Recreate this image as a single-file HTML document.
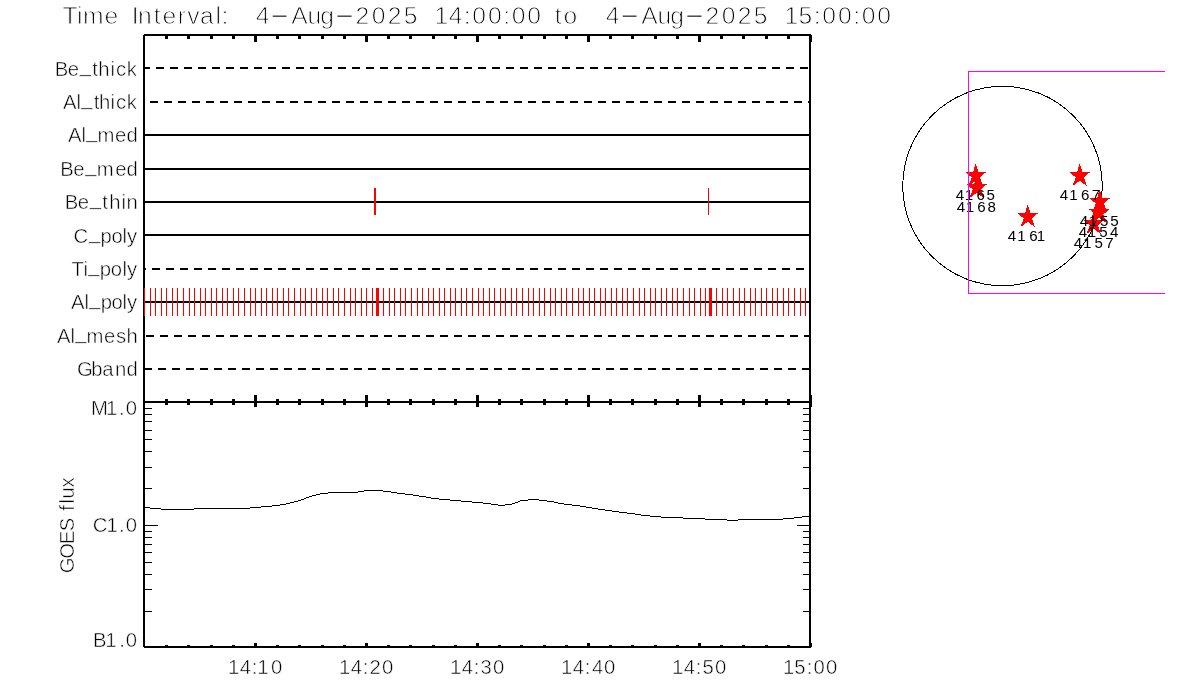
<!DOCTYPE html>
<html lang="en"><head><meta charset="utf-8"><title>Time Interval</title>
<style>
html,body{margin:0;padding:0;background:#fff;}
body{width:1200px;height:700px;overflow:hidden;}
svg{display:block;position:absolute;left:0;top:0;}
text{font-family:"Liberation Sans",sans-serif;fill:#000;stroke:#fff;stroke-width:0.5px;stroke-linejoin:round;}
.tt{stroke-width:0.9px;}
.ar{stroke:none;}
.c{shape-rendering:crispEdges;}
</style></head><body>
<svg width="1200" height="700" viewBox="0 0 1200 700">
<rect width="1200" height="700" fill="#fff"/>
<g class="c" fill="#000">
<rect x="144" y="34" width="667" height="1"/>
<rect x="143" y="35" width="669" height="1"/>
<rect x="143" y="401" width="668" height="2"/>
<rect x="143" y="646" width="669" height="1"/>
<rect x="144" y="647" width="667" height="1"/>
<rect x="143" y="35" width="2" height="612"/>
<rect x="809" y="35" width="2" height="612"/>
<rect x="165" y="36" width="3" height="3"/>
<rect x="165" y="399" width="3" height="6"/>
<rect x="165" y="645" width="3" height="1"/>
<rect x="187" y="36" width="3" height="3"/>
<rect x="187" y="399" width="3" height="6"/>
<rect x="187" y="645" width="3" height="1"/>
<rect x="210" y="36" width="3" height="3"/>
<rect x="210" y="399" width="3" height="6"/>
<rect x="210" y="645" width="3" height="1"/>
<rect x="232" y="36" width="3" height="3"/>
<rect x="232" y="399" width="3" height="6"/>
<rect x="232" y="645" width="3" height="1"/>
<rect x="254" y="36" width="3" height="6"/>
<rect x="254" y="395" width="3" height="12"/>
<rect x="254" y="643" width="3" height="3"/>
<rect x="276" y="36" width="3" height="3"/>
<rect x="276" y="399" width="3" height="6"/>
<rect x="276" y="645" width="3" height="1"/>
<rect x="298" y="36" width="3" height="3"/>
<rect x="298" y="399" width="3" height="6"/>
<rect x="298" y="645" width="3" height="1"/>
<rect x="321" y="36" width="3" height="3"/>
<rect x="321" y="399" width="3" height="6"/>
<rect x="321" y="645" width="3" height="1"/>
<rect x="343" y="36" width="3" height="3"/>
<rect x="343" y="399" width="3" height="6"/>
<rect x="343" y="645" width="3" height="1"/>
<rect x="365" y="36" width="3" height="6"/>
<rect x="365" y="395" width="3" height="12"/>
<rect x="365" y="643" width="3" height="3"/>
<rect x="387" y="36" width="3" height="3"/>
<rect x="387" y="399" width="3" height="6"/>
<rect x="387" y="645" width="3" height="1"/>
<rect x="409" y="36" width="3" height="3"/>
<rect x="409" y="399" width="3" height="6"/>
<rect x="409" y="645" width="3" height="1"/>
<rect x="432" y="36" width="3" height="3"/>
<rect x="432" y="399" width="3" height="6"/>
<rect x="432" y="645" width="3" height="1"/>
<rect x="454" y="36" width="3" height="3"/>
<rect x="454" y="399" width="3" height="6"/>
<rect x="454" y="645" width="3" height="1"/>
<rect x="476" y="36" width="3" height="6"/>
<rect x="476" y="395" width="3" height="12"/>
<rect x="476" y="643" width="3" height="3"/>
<rect x="498" y="36" width="3" height="3"/>
<rect x="498" y="399" width="3" height="6"/>
<rect x="498" y="645" width="3" height="1"/>
<rect x="520" y="36" width="3" height="3"/>
<rect x="520" y="399" width="3" height="6"/>
<rect x="520" y="645" width="3" height="1"/>
<rect x="543" y="36" width="3" height="3"/>
<rect x="543" y="399" width="3" height="6"/>
<rect x="543" y="645" width="3" height="1"/>
<rect x="565" y="36" width="3" height="3"/>
<rect x="565" y="399" width="3" height="6"/>
<rect x="565" y="645" width="3" height="1"/>
<rect x="587" y="36" width="3" height="6"/>
<rect x="587" y="395" width="3" height="12"/>
<rect x="587" y="643" width="3" height="3"/>
<rect x="609" y="36" width="3" height="3"/>
<rect x="609" y="399" width="3" height="6"/>
<rect x="609" y="645" width="3" height="1"/>
<rect x="631" y="36" width="3" height="3"/>
<rect x="631" y="399" width="3" height="6"/>
<rect x="631" y="645" width="3" height="1"/>
<rect x="654" y="36" width="3" height="3"/>
<rect x="654" y="399" width="3" height="6"/>
<rect x="654" y="645" width="3" height="1"/>
<rect x="676" y="36" width="3" height="3"/>
<rect x="676" y="399" width="3" height="6"/>
<rect x="676" y="645" width="3" height="1"/>
<rect x="698" y="36" width="3" height="6"/>
<rect x="698" y="395" width="3" height="12"/>
<rect x="698" y="643" width="3" height="3"/>
<rect x="720" y="36" width="3" height="3"/>
<rect x="720" y="399" width="3" height="6"/>
<rect x="720" y="645" width="3" height="1"/>
<rect x="742" y="36" width="3" height="3"/>
<rect x="742" y="399" width="3" height="6"/>
<rect x="742" y="645" width="3" height="1"/>
<rect x="765" y="36" width="3" height="3"/>
<rect x="765" y="399" width="3" height="6"/>
<rect x="765" y="645" width="3" height="1"/>
<rect x="787" y="36" width="3" height="3"/>
<rect x="787" y="399" width="3" height="6"/>
<rect x="787" y="645" width="3" height="1"/>
<rect x="809" y="36" width="3" height="6"/>
<rect x="809" y="395" width="3" height="12"/>
<rect x="809" y="643" width="3" height="3"/>
</g>
<g class="c" fill="#000">
<rect x="145" y="67" width="5" height="2"/>
<rect x="156" y="67" width="8" height="2"/>
<rect x="170" y="67" width="8" height="2"/>
<rect x="184" y="67" width="8" height="2"/>
<rect x="198" y="67" width="8" height="2"/>
<rect x="212" y="67" width="8" height="2"/>
<rect x="226" y="67" width="8" height="2"/>
<rect x="240" y="67" width="8" height="2"/>
<rect x="254" y="67" width="8" height="2"/>
<rect x="268" y="67" width="8" height="2"/>
<rect x="282" y="67" width="8" height="2"/>
<rect x="296" y="67" width="8" height="2"/>
<rect x="310" y="67" width="8" height="2"/>
<rect x="324" y="67" width="8" height="2"/>
<rect x="338" y="67" width="8" height="2"/>
<rect x="352" y="67" width="8" height="2"/>
<rect x="366" y="67" width="8" height="2"/>
<rect x="380" y="67" width="8" height="2"/>
<rect x="394" y="67" width="8" height="2"/>
<rect x="408" y="67" width="8" height="2"/>
<rect x="422" y="67" width="8" height="2"/>
<rect x="436" y="67" width="8" height="2"/>
<rect x="450" y="67" width="8" height="2"/>
<rect x="464" y="67" width="8" height="2"/>
<rect x="478" y="67" width="8" height="2"/>
<rect x="492" y="67" width="8" height="2"/>
<rect x="506" y="67" width="8" height="2"/>
<rect x="520" y="67" width="8" height="2"/>
<rect x="534" y="67" width="8" height="2"/>
<rect x="548" y="67" width="8" height="2"/>
<rect x="562" y="67" width="8" height="2"/>
<rect x="576" y="67" width="8" height="2"/>
<rect x="590" y="67" width="8" height="2"/>
<rect x="604" y="67" width="8" height="2"/>
<rect x="618" y="67" width="8" height="2"/>
<rect x="632" y="67" width="8" height="2"/>
<rect x="646" y="67" width="8" height="2"/>
<rect x="660" y="67" width="8" height="2"/>
<rect x="674" y="67" width="8" height="2"/>
<rect x="688" y="67" width="8" height="2"/>
<rect x="702" y="67" width="8" height="2"/>
<rect x="716" y="67" width="8" height="2"/>
<rect x="730" y="67" width="8" height="2"/>
<rect x="744" y="67" width="8" height="2"/>
<rect x="758" y="67" width="8" height="2"/>
<rect x="772" y="67" width="8" height="2"/>
<rect x="786" y="67" width="8" height="2"/>
<rect x="800" y="67" width="8" height="2"/>
<rect x="150" y="101" width="8" height="2"/>
<rect x="164" y="101" width="8" height="2"/>
<rect x="178" y="101" width="8" height="2"/>
<rect x="192" y="101" width="8" height="2"/>
<rect x="206" y="101" width="8" height="2"/>
<rect x="220" y="101" width="8" height="2"/>
<rect x="234" y="101" width="8" height="2"/>
<rect x="248" y="101" width="8" height="2"/>
<rect x="262" y="101" width="8" height="2"/>
<rect x="276" y="101" width="8" height="2"/>
<rect x="290" y="101" width="8" height="2"/>
<rect x="304" y="101" width="8" height="2"/>
<rect x="318" y="101" width="8" height="2"/>
<rect x="332" y="101" width="8" height="2"/>
<rect x="346" y="101" width="8" height="2"/>
<rect x="360" y="101" width="8" height="2"/>
<rect x="374" y="101" width="8" height="2"/>
<rect x="388" y="101" width="8" height="2"/>
<rect x="402" y="101" width="8" height="2"/>
<rect x="416" y="101" width="8" height="2"/>
<rect x="430" y="101" width="8" height="2"/>
<rect x="444" y="101" width="8" height="2"/>
<rect x="458" y="101" width="8" height="2"/>
<rect x="472" y="101" width="8" height="2"/>
<rect x="486" y="101" width="8" height="2"/>
<rect x="500" y="101" width="8" height="2"/>
<rect x="514" y="101" width="8" height="2"/>
<rect x="528" y="101" width="8" height="2"/>
<rect x="542" y="101" width="8" height="2"/>
<rect x="556" y="101" width="8" height="2"/>
<rect x="570" y="101" width="8" height="2"/>
<rect x="584" y="101" width="8" height="2"/>
<rect x="598" y="101" width="8" height="2"/>
<rect x="612" y="101" width="8" height="2"/>
<rect x="626" y="101" width="8" height="2"/>
<rect x="640" y="101" width="8" height="2"/>
<rect x="654" y="101" width="8" height="2"/>
<rect x="668" y="101" width="8" height="2"/>
<rect x="682" y="101" width="8" height="2"/>
<rect x="696" y="101" width="8" height="2"/>
<rect x="710" y="101" width="8" height="2"/>
<rect x="724" y="101" width="8" height="2"/>
<rect x="738" y="101" width="8" height="2"/>
<rect x="752" y="101" width="8" height="2"/>
<rect x="766" y="101" width="8" height="2"/>
<rect x="780" y="101" width="8" height="2"/>
<rect x="794" y="101" width="8" height="2"/>
<rect x="808" y="101" width="1" height="2"/>
<rect x="145" y="134" width="664" height="2"/>
<rect x="145" y="168" width="664" height="2"/>
<rect x="145" y="201" width="664" height="2"/>
<rect x="145" y="234" width="664" height="2"/>
<rect x="145" y="268" width="1" height="2"/>
<rect x="152" y="268" width="8" height="2"/>
<rect x="166" y="268" width="8" height="2"/>
<rect x="180" y="268" width="8" height="2"/>
<rect x="194" y="268" width="8" height="2"/>
<rect x="208" y="268" width="8" height="2"/>
<rect x="222" y="268" width="8" height="2"/>
<rect x="236" y="268" width="8" height="2"/>
<rect x="250" y="268" width="8" height="2"/>
<rect x="264" y="268" width="8" height="2"/>
<rect x="278" y="268" width="8" height="2"/>
<rect x="292" y="268" width="8" height="2"/>
<rect x="306" y="268" width="8" height="2"/>
<rect x="320" y="268" width="8" height="2"/>
<rect x="334" y="268" width="8" height="2"/>
<rect x="348" y="268" width="8" height="2"/>
<rect x="362" y="268" width="8" height="2"/>
<rect x="376" y="268" width="8" height="2"/>
<rect x="390" y="268" width="8" height="2"/>
<rect x="404" y="268" width="8" height="2"/>
<rect x="418" y="268" width="8" height="2"/>
<rect x="432" y="268" width="8" height="2"/>
<rect x="446" y="268" width="8" height="2"/>
<rect x="460" y="268" width="8" height="2"/>
<rect x="474" y="268" width="8" height="2"/>
<rect x="488" y="268" width="8" height="2"/>
<rect x="502" y="268" width="8" height="2"/>
<rect x="516" y="268" width="8" height="2"/>
<rect x="530" y="268" width="8" height="2"/>
<rect x="544" y="268" width="8" height="2"/>
<rect x="558" y="268" width="8" height="2"/>
<rect x="572" y="268" width="8" height="2"/>
<rect x="586" y="268" width="8" height="2"/>
<rect x="600" y="268" width="8" height="2"/>
<rect x="614" y="268" width="8" height="2"/>
<rect x="628" y="268" width="8" height="2"/>
<rect x="642" y="268" width="8" height="2"/>
<rect x="656" y="268" width="8" height="2"/>
<rect x="670" y="268" width="8" height="2"/>
<rect x="684" y="268" width="8" height="2"/>
<rect x="698" y="268" width="8" height="2"/>
<rect x="712" y="268" width="8" height="2"/>
<rect x="726" y="268" width="8" height="2"/>
<rect x="740" y="268" width="8" height="2"/>
<rect x="754" y="268" width="8" height="2"/>
<rect x="768" y="268" width="8" height="2"/>
<rect x="782" y="268" width="8" height="2"/>
<rect x="796" y="268" width="8" height="2"/>
<rect x="145" y="301" width="664" height="2"/>
<rect x="146" y="335" width="8" height="2"/>
<rect x="160" y="335" width="8" height="2"/>
<rect x="174" y="335" width="8" height="2"/>
<rect x="188" y="335" width="8" height="2"/>
<rect x="202" y="335" width="8" height="2"/>
<rect x="216" y="335" width="8" height="2"/>
<rect x="230" y="335" width="8" height="2"/>
<rect x="244" y="335" width="8" height="2"/>
<rect x="258" y="335" width="8" height="2"/>
<rect x="272" y="335" width="8" height="2"/>
<rect x="286" y="335" width="8" height="2"/>
<rect x="300" y="335" width="8" height="2"/>
<rect x="314" y="335" width="8" height="2"/>
<rect x="328" y="335" width="8" height="2"/>
<rect x="342" y="335" width="8" height="2"/>
<rect x="356" y="335" width="8" height="2"/>
<rect x="370" y="335" width="8" height="2"/>
<rect x="384" y="335" width="8" height="2"/>
<rect x="398" y="335" width="8" height="2"/>
<rect x="412" y="335" width="8" height="2"/>
<rect x="426" y="335" width="8" height="2"/>
<rect x="440" y="335" width="8" height="2"/>
<rect x="454" y="335" width="8" height="2"/>
<rect x="468" y="335" width="8" height="2"/>
<rect x="482" y="335" width="8" height="2"/>
<rect x="496" y="335" width="8" height="2"/>
<rect x="510" y="335" width="8" height="2"/>
<rect x="524" y="335" width="8" height="2"/>
<rect x="538" y="335" width="8" height="2"/>
<rect x="552" y="335" width="8" height="2"/>
<rect x="566" y="335" width="8" height="2"/>
<rect x="580" y="335" width="8" height="2"/>
<rect x="594" y="335" width="8" height="2"/>
<rect x="608" y="335" width="8" height="2"/>
<rect x="622" y="335" width="8" height="2"/>
<rect x="636" y="335" width="8" height="2"/>
<rect x="650" y="335" width="8" height="2"/>
<rect x="664" y="335" width="8" height="2"/>
<rect x="678" y="335" width="8" height="2"/>
<rect x="692" y="335" width="8" height="2"/>
<rect x="706" y="335" width="8" height="2"/>
<rect x="720" y="335" width="8" height="2"/>
<rect x="734" y="335" width="8" height="2"/>
<rect x="748" y="335" width="8" height="2"/>
<rect x="762" y="335" width="8" height="2"/>
<rect x="776" y="335" width="8" height="2"/>
<rect x="790" y="335" width="8" height="2"/>
<rect x="804" y="335" width="5" height="2"/>
<rect x="145" y="368" width="7" height="2"/>
<rect x="158" y="368" width="8" height="2"/>
<rect x="172" y="368" width="8" height="2"/>
<rect x="186" y="368" width="8" height="2"/>
<rect x="200" y="368" width="8" height="2"/>
<rect x="214" y="368" width="8" height="2"/>
<rect x="228" y="368" width="8" height="2"/>
<rect x="242" y="368" width="8" height="2"/>
<rect x="256" y="368" width="8" height="2"/>
<rect x="270" y="368" width="8" height="2"/>
<rect x="284" y="368" width="8" height="2"/>
<rect x="298" y="368" width="8" height="2"/>
<rect x="312" y="368" width="8" height="2"/>
<rect x="326" y="368" width="8" height="2"/>
<rect x="340" y="368" width="8" height="2"/>
<rect x="354" y="368" width="8" height="2"/>
<rect x="368" y="368" width="8" height="2"/>
<rect x="382" y="368" width="8" height="2"/>
<rect x="396" y="368" width="8" height="2"/>
<rect x="410" y="368" width="8" height="2"/>
<rect x="424" y="368" width="8" height="2"/>
<rect x="438" y="368" width="8" height="2"/>
<rect x="452" y="368" width="8" height="2"/>
<rect x="466" y="368" width="8" height="2"/>
<rect x="480" y="368" width="8" height="2"/>
<rect x="494" y="368" width="8" height="2"/>
<rect x="508" y="368" width="8" height="2"/>
<rect x="522" y="368" width="8" height="2"/>
<rect x="536" y="368" width="8" height="2"/>
<rect x="550" y="368" width="8" height="2"/>
<rect x="564" y="368" width="8" height="2"/>
<rect x="578" y="368" width="8" height="2"/>
<rect x="592" y="368" width="8" height="2"/>
<rect x="606" y="368" width="8" height="2"/>
<rect x="620" y="368" width="8" height="2"/>
<rect x="634" y="368" width="8" height="2"/>
<rect x="648" y="368" width="8" height="2"/>
<rect x="662" y="368" width="8" height="2"/>
<rect x="676" y="368" width="8" height="2"/>
<rect x="690" y="368" width="8" height="2"/>
<rect x="704" y="368" width="8" height="2"/>
<rect x="718" y="368" width="8" height="2"/>
<rect x="732" y="368" width="8" height="2"/>
<rect x="746" y="368" width="8" height="2"/>
<rect x="760" y="368" width="8" height="2"/>
<rect x="774" y="368" width="8" height="2"/>
<rect x="788" y="368" width="8" height="2"/>
<rect x="802" y="368" width="7" height="2"/>
</g>
<g class="c" fill="#f00">
<rect x="144" y="288" width="1" height="28"/>
<rect x="150" y="288" width="1" height="28"/>
<rect x="155" y="288" width="1" height="28"/>
<rect x="161" y="288" width="1" height="28"/>
<rect x="166" y="288" width="1" height="28"/>
<rect x="172" y="288" width="1" height="28"/>
<rect x="177" y="288" width="1" height="28"/>
<rect x="183" y="288" width="1" height="28"/>
<rect x="189" y="288" width="1" height="28"/>
<rect x="194" y="288" width="1" height="28"/>
<rect x="200" y="288" width="1" height="28"/>
<rect x="205" y="288" width="1" height="28"/>
<rect x="211" y="288" width="1" height="28"/>
<rect x="216" y="288" width="1" height="28"/>
<rect x="222" y="288" width="1" height="28"/>
<rect x="227" y="288" width="1" height="28"/>
<rect x="233" y="288" width="1" height="28"/>
<rect x="238" y="288" width="1" height="28"/>
<rect x="244" y="288" width="1" height="28"/>
<rect x="250" y="288" width="1" height="28"/>
<rect x="255" y="288" width="1" height="28"/>
<rect x="261" y="288" width="1" height="28"/>
<rect x="266" y="288" width="1" height="28"/>
<rect x="272" y="288" width="1" height="28"/>
<rect x="277" y="288" width="1" height="28"/>
<rect x="283" y="288" width="1" height="28"/>
<rect x="288" y="288" width="1" height="28"/>
<rect x="294" y="288" width="1" height="28"/>
<rect x="300" y="288" width="1" height="28"/>
<rect x="305" y="288" width="1" height="28"/>
<rect x="311" y="288" width="1" height="28"/>
<rect x="316" y="288" width="1" height="28"/>
<rect x="322" y="288" width="1" height="28"/>
<rect x="327" y="288" width="1" height="28"/>
<rect x="333" y="288" width="1" height="28"/>
<rect x="338" y="288" width="1" height="28"/>
<rect x="344" y="288" width="1" height="28"/>
<rect x="350" y="288" width="1" height="28"/>
<rect x="355" y="288" width="1" height="28"/>
<rect x="361" y="288" width="1" height="28"/>
<rect x="366" y="288" width="1" height="28"/>
<rect x="372" y="288" width="1" height="28"/>
<rect x="377" y="288" width="1" height="28"/>
<rect x="383" y="288" width="1" height="28"/>
<rect x="389" y="288" width="1" height="28"/>
<rect x="394" y="288" width="1" height="28"/>
<rect x="400" y="288" width="1" height="28"/>
<rect x="405" y="288" width="1" height="28"/>
<rect x="411" y="288" width="1" height="28"/>
<rect x="417" y="288" width="1" height="28"/>
<rect x="422" y="288" width="1" height="28"/>
<rect x="428" y="288" width="1" height="28"/>
<rect x="433" y="288" width="1" height="28"/>
<rect x="439" y="288" width="1" height="28"/>
<rect x="444" y="288" width="1" height="28"/>
<rect x="450" y="288" width="1" height="28"/>
<rect x="455" y="288" width="1" height="28"/>
<rect x="461" y="288" width="1" height="28"/>
<rect x="466" y="288" width="1" height="28"/>
<rect x="472" y="288" width="1" height="28"/>
<rect x="478" y="288" width="1" height="28"/>
<rect x="483" y="288" width="1" height="28"/>
<rect x="489" y="288" width="1" height="28"/>
<rect x="494" y="288" width="1" height="28"/>
<rect x="500" y="288" width="1" height="28"/>
<rect x="505" y="288" width="1" height="28"/>
<rect x="511" y="288" width="1" height="28"/>
<rect x="516" y="288" width="1" height="28"/>
<rect x="522" y="288" width="1" height="28"/>
<rect x="528" y="288" width="1" height="28"/>
<rect x="533" y="288" width="1" height="28"/>
<rect x="539" y="288" width="1" height="28"/>
<rect x="544" y="288" width="1" height="28"/>
<rect x="550" y="288" width="1" height="28"/>
<rect x="555" y="288" width="1" height="28"/>
<rect x="561" y="288" width="1" height="28"/>
<rect x="566" y="288" width="1" height="28"/>
<rect x="572" y="288" width="1" height="28"/>
<rect x="578" y="288" width="1" height="28"/>
<rect x="583" y="288" width="1" height="28"/>
<rect x="589" y="288" width="1" height="28"/>
<rect x="594" y="288" width="1" height="28"/>
<rect x="600" y="288" width="1" height="28"/>
<rect x="605" y="288" width="1" height="28"/>
<rect x="611" y="288" width="1" height="28"/>
<rect x="616" y="288" width="1" height="28"/>
<rect x="622" y="288" width="1" height="28"/>
<rect x="627" y="288" width="1" height="28"/>
<rect x="633" y="288" width="1" height="28"/>
<rect x="639" y="288" width="1" height="28"/>
<rect x="644" y="288" width="1" height="28"/>
<rect x="650" y="288" width="1" height="28"/>
<rect x="655" y="288" width="1" height="28"/>
<rect x="661" y="288" width="1" height="28"/>
<rect x="666" y="288" width="1" height="28"/>
<rect x="672" y="288" width="1" height="28"/>
<rect x="677" y="288" width="1" height="28"/>
<rect x="683" y="288" width="1" height="28"/>
<rect x="689" y="288" width="1" height="28"/>
<rect x="694" y="288" width="1" height="28"/>
<rect x="700" y="288" width="1" height="28"/>
<rect x="705" y="288" width="1" height="28"/>
<rect x="711" y="288" width="1" height="28"/>
<rect x="716" y="288" width="1" height="28"/>
<rect x="722" y="288" width="1" height="28"/>
<rect x="727" y="288" width="1" height="28"/>
<rect x="733" y="288" width="1" height="28"/>
<rect x="739" y="288" width="1" height="28"/>
<rect x="744" y="288" width="1" height="28"/>
<rect x="750" y="288" width="1" height="28"/>
<rect x="755" y="288" width="1" height="28"/>
<rect x="761" y="288" width="1" height="28"/>
<rect x="766" y="288" width="1" height="28"/>
<rect x="772" y="288" width="1" height="28"/>
<rect x="777" y="288" width="1" height="28"/>
<rect x="783" y="288" width="1" height="28"/>
<rect x="788" y="288" width="1" height="28"/>
<rect x="794" y="288" width="1" height="28"/>
<rect x="800" y="288" width="1" height="28"/>
<rect x="805" y="288" width="1" height="28"/>
<rect x="376" y="288" width="3" height="28"/>
<rect x="709" y="288" width="3" height="28"/>
<rect x="374" y="188" width="2" height="27"/>
<rect x="708" y="188" width="1" height="27"/>
</g>
<g class="c" fill="#000">
<rect x="145" y="488" width="7" height="1"/>
<rect x="803" y="488" width="6" height="1"/>
<rect x="145" y="467" width="7" height="1"/>
<rect x="803" y="467" width="6" height="1"/>
<rect x="145" y="451" width="7" height="1"/>
<rect x="803" y="451" width="6" height="1"/>
<rect x="145" y="439" width="7" height="1"/>
<rect x="803" y="439" width="6" height="1"/>
<rect x="145" y="430" width="7" height="1"/>
<rect x="803" y="430" width="6" height="1"/>
<rect x="145" y="421" width="7" height="1"/>
<rect x="803" y="421" width="6" height="1"/>
<rect x="145" y="414" width="7" height="1"/>
<rect x="803" y="414" width="6" height="1"/>
<rect x="145" y="408" width="7" height="1"/>
<rect x="803" y="408" width="6" height="1"/>
<rect x="145" y="611" width="7" height="1"/>
<rect x="803" y="611" width="6" height="1"/>
<rect x="145" y="589" width="7" height="1"/>
<rect x="803" y="589" width="6" height="1"/>
<rect x="145" y="574" width="7" height="1"/>
<rect x="803" y="574" width="6" height="1"/>
<rect x="145" y="562" width="7" height="1"/>
<rect x="803" y="562" width="6" height="1"/>
<rect x="145" y="552" width="7" height="1"/>
<rect x="803" y="552" width="6" height="1"/>
<rect x="145" y="544" width="7" height="1"/>
<rect x="803" y="544" width="6" height="1"/>
<rect x="145" y="537" width="7" height="1"/>
<rect x="803" y="537" width="6" height="1"/>
<rect x="145" y="531" width="7" height="1"/>
<rect x="803" y="531" width="6" height="1"/>
<rect x="145" y="525" width="13" height="1"/>
<rect x="797" y="525" width="12" height="1"/>
</g>
<g class="c" fill="#000">
<rect x="145" y="507" width="5" height="1"/>
<rect x="150" y="508" width="11" height="1"/>
<rect x="161" y="509" width="33" height="1"/>
<rect x="194" y="508" width="56" height="1"/>
<rect x="250" y="507" width="11" height="1"/>
<rect x="261" y="506" width="11" height="1"/>
<rect x="272" y="505" width="8" height="1"/>
<rect x="280" y="504" width="6" height="1"/>
<rect x="286" y="503" width="4" height="1"/>
<rect x="290" y="502" width="4" height="1"/>
<rect x="294" y="501" width="4" height="1"/>
<rect x="298" y="500" width="3" height="1"/>
<rect x="301" y="499" width="3" height="1"/>
<rect x="304" y="498" width="2" height="1"/>
<rect x="306" y="497" width="3" height="1"/>
<rect x="309" y="496" width="3" height="1"/>
<rect x="312" y="495" width="4" height="1"/>
<rect x="316" y="494" width="4" height="1"/>
<rect x="320" y="493" width="8" height="1"/>
<rect x="328" y="492" width="30" height="1"/>
<rect x="358" y="491" width="6" height="1"/>
<rect x="364" y="490" width="19" height="1"/>
<rect x="383" y="491" width="8" height="1"/>
<rect x="391" y="492" width="6" height="1"/>
<rect x="397" y="493" width="8" height="1"/>
<rect x="405" y="494" width="8" height="1"/>
<rect x="413" y="495" width="6" height="1"/>
<rect x="419" y="496" width="7" height="1"/>
<rect x="426" y="497" width="5" height="1"/>
<rect x="431" y="498" width="8" height="1"/>
<rect x="439" y="499" width="11" height="1"/>
<rect x="450" y="500" width="11" height="1"/>
<rect x="461" y="501" width="11" height="1"/>
<rect x="472" y="502" width="11" height="1"/>
<rect x="483" y="503" width="8" height="1"/>
<rect x="491" y="504" width="7" height="1"/>
<rect x="498" y="505" width="7" height="1"/>
<rect x="505" y="504" width="7" height="1"/>
<rect x="512" y="503" width="3" height="1"/>
<rect x="515" y="502" width="3" height="1"/>
<rect x="518" y="501" width="2" height="1"/>
<rect x="520" y="500" width="8" height="1"/>
<rect x="528" y="499" width="11" height="1"/>
<rect x="539" y="500" width="8" height="1"/>
<rect x="547" y="501" width="7" height="1"/>
<rect x="554" y="502" width="4" height="1"/>
<rect x="558" y="503" width="6" height="1"/>
<rect x="564" y="504" width="8" height="1"/>
<rect x="572" y="505" width="8" height="1"/>
<rect x="580" y="506" width="6" height="1"/>
<rect x="586" y="507" width="6" height="1"/>
<rect x="592" y="508" width="6" height="1"/>
<rect x="598" y="509" width="7" height="1"/>
<rect x="605" y="510" width="7" height="1"/>
<rect x="612" y="511" width="7" height="1"/>
<rect x="619" y="512" width="8" height="1"/>
<rect x="627" y="513" width="8" height="1"/>
<rect x="635" y="514" width="6" height="1"/>
<rect x="641" y="515" width="9" height="1"/>
<rect x="650" y="516" width="11" height="1"/>
<rect x="661" y="517" width="22" height="1"/>
<rect x="683" y="518" width="22" height="1"/>
<rect x="705" y="519" width="22" height="1"/>
<rect x="727" y="520" width="11" height="1"/>
<rect x="738" y="519" width="45" height="1"/>
<rect x="783" y="518" width="11" height="1"/>
<rect x="794" y="517" width="8" height="1"/>
<rect x="802" y="516" width="7" height="1"/>
</g>
<text y="76" font-size="20.3"><tspan x="54.83 67.76">Be</tspan><tspan x="79.79" dy="-3.6">_</tspan><tspan x="92.31 98.27 110.53 116.07 126.85" dy="3.6">thick</tspan></text>
<text y="109" font-size="20.3"><tspan x="62.95 76.39">Al</tspan><tspan x="81.15" dy="-3.6">_</tspan><tspan x="93.69 99.06 110.51 116.06 126.85" dy="3.6">thick</tspan></text>
<text y="142" font-size="20.3"><tspan x="67.95 81.39">Al</tspan><tspan x="86.16" dy="-3.6">_</tspan><tspan x="97.62 115.06 126.50" dy="3.6">med</tspan></text>
<text y="176" font-size="20.3"><tspan x="60.33 73.26">Be</tspan><tspan x="85.29" dy="-3.6">_</tspan><tspan x="96.75 115.18 126.50" dy="3.6">med</tspan></text>
<text y="209" font-size="20.3"><tspan x="64.83 77.76">Be</tspan><tspan x="89.79" dy="-3.6">_</tspan><tspan x="102.31 109.15 121.57 126.55" dy="3.6">thin</tspan></text>
<text y="242.5" font-size="20.3"><tspan x="73.48">C</tspan><tspan x="88.95" dy="-3.6">_</tspan><tspan x="100.47 111.38 122.49 126.90" dy="3.6">poly</tspan></text>
<text y="275.5" font-size="20.3"><tspan x="71.54 83.41">Ti</tspan><tspan x="88.18" dy="-3.6">_</tspan><tspan x="99.69 110.66 122.49 126.90" dy="3.6">poly</tspan></text>
<text y="309" font-size="20.3"><tspan x="70.95 84.39">Al</tspan><tspan x="89.15" dy="-3.6">_</tspan><tspan x="100.67 111.57 122.49 126.90" dy="3.6">poly</tspan></text>
<text y="343" font-size="20.3"><tspan x="56.95 70.39">Al</tspan><tspan x="75.16" dy="-3.6">_</tspan><tspan x="86.62 103.93 116.06 126.55" dy="3.6">mesh</tspan></text>
<text x="76.98 91.24 102.15 114.92 126.50" y="376" font-size="20.3">Gband</text>
<text x="91.08 106.10 119.12 125.74" y="415" font-size="20.3">M1.0</text>
<text x="92.73 106.39 119.02 125.74" y="532" font-size="20.3">C1.0</text>
<text x="93.08 105.37 119.14 125.74" y="647" font-size="20.3">B1.0</text>
<text x="227.98 239.65 251.70 257.29 270.99" y="674" font-size="20.3">14:10</text>
<text x="338.98 350.65 362.70 369.53 381.99" y="674" font-size="20.3">14:20</text>
<text x="449.98 461.65 473.70 480.58 492.99" y="674" font-size="20.3">14:30</text>
<text x="560.98 572.65 584.70 591.91 603.99" y="674" font-size="20.3">14:40</text>
<text x="671.98 683.65 695.70 702.53 714.99" y="674" font-size="20.3">14:50</text>
<text x="782.98 794.27 806.70 813.51 825.99" y="674" font-size="20.3">15:00</text>
<text transform="translate(74,572.3) rotate(-90)" x="-1.02 13.59 28.05 41.14 50.55 61.63 68.77 73.79 84.80" y="0" font-size="20.3">GOES flux</text>
<text class="tt" y="24" font-size="24.7" xml:space="preserve"><tspan x="62.44 76.89 82.98 104.54">Time</tspan> <tspan x="131.72 137.94 153.74 162.44 177.85 187.18 199.95 215.48 221.62">Interval:</tspan>  <tspan x="255.69">4</tspan><tspan x="269.12" dy="-2.2" textLength="21.29" lengthAdjust="spacingAndGlyphs" style="stroke-width:0.7px">-</tspan><tspan x="291.19 307.61 320.34" dy="2.2">Aug</tspan><tspan x="333.53" dy="-2.2" textLength="21.97" lengthAdjust="spacingAndGlyphs" style="stroke-width:0.7px">-</tspan><tspan x="355.56 371.70 387.86 403.78" dy="2.2">2025</tspan> <tspan x="434.40 448.86 463.68 472.13 487.97 503.28 511.73 527.22">14:00:00</tspan> <tspan x="554.63 563.53">to</tspan>  <tspan x="605.69">4</tspan><tspan x="619.12" dy="-2.2" textLength="21.29" lengthAdjust="spacingAndGlyphs" style="stroke-width:0.7px">-</tspan><tspan x="641.19 657.61 670.34" dy="2.2">Aug</tspan><tspan x="683.53" dy="-2.2" textLength="21.97" lengthAdjust="spacingAndGlyphs" style="stroke-width:0.7px">-</tspan><tspan x="705.56 721.70 737.86 753.78" dy="2.2">2025</tspan> <tspan x="784.40 798.40 813.68 822.13 837.97 853.28 861.73 877.22">15:00:00</tspan></text>
<polygon class="c" points="1093.75,210.84 1096.28,219.80 1104.48,219.80 1097.85,225.33 1101.02,234.28 1093.75,228.75 1086.48,234.28 1089.65,225.33 1083.02,219.80 1091.22,219.80" fill="#f00"/>
<circle class="c" cx="1002.5" cy="186" r="99.75" fill="none" stroke="#000" stroke-width="1"/>
<polygon class="c" points="1099.75,188.84 1102.28,197.80 1110.48,197.80 1103.85,203.33 1107.02,212.28 1099.75,206.75 1092.48,212.28 1095.65,203.33 1089.02,197.80 1097.22,197.80" fill="#f00"/>
<polygon class="c" points="1099.25,199.84 1101.78,208.80 1109.98,208.80 1103.35,214.33 1106.52,223.28 1099.25,217.75 1091.98,223.28 1095.15,214.33 1088.52,208.80 1096.72,208.80" fill="#f00"/>
<polygon class="c" points="1027.75,203.84 1030.28,212.80 1038.48,212.80 1031.85,218.33 1035.02,227.28 1027.75,221.75 1020.48,227.28 1023.65,218.33 1017.02,212.80 1025.22,212.80" fill="#f00"/>
<polygon class="c" points="975.75,162.84 978.28,171.80 986.48,171.80 979.85,177.33 983.02,186.28 975.75,180.75 968.48,186.28 971.65,177.33 965.02,171.80 973.22,171.80" fill="#f00"/>
<polygon class="c" points="1079.75,162.84 1082.28,171.80 1090.48,171.80 1083.85,177.33 1087.02,186.28 1079.75,180.75 1072.48,186.28 1075.65,177.33 1069.02,171.80 1077.22,171.80" fill="#f00"/>
<polygon class="c" points="976.75,174.84 979.28,183.80 987.48,183.80 980.85,189.33 984.02,198.28 976.75,192.75 969.48,198.28 972.65,189.33 966.02,183.80 974.22,183.80" fill="#f00"/>
<text x="1079.66 1088.70 1099.94 1110.22" y="226" font-size="15.1" class="ar">4155</text>
<text x="1078.66 1087.86 1099.25 1110.03" y="237" font-size="15.1" class="ar">4154</text>
<text x="1073.66 1083.04 1094.58 1105.37" y="248" font-size="15.1" class="ar">4157</text>
<text x="1007.66 1017.29 1029.25 1036.84" y="241" font-size="15.1" class="ar">4161</text>
<text x="955.66 964.83 976.40 986.62" y="200" font-size="15.1" class="ar">4165</text>
<text x="1059.66 1069.18 1081.04 1091.77" y="200" font-size="15.1" class="ar">4167</text>
<text x="956.66 965.77 977.27 987.46" y="212" font-size="15.1" class="ar">4168</text>
<path class="c" d="M1165,71.5H968.5V293.5H1165" fill="none" stroke="#f0f" stroke-width="1"/>
</svg></body></html>
